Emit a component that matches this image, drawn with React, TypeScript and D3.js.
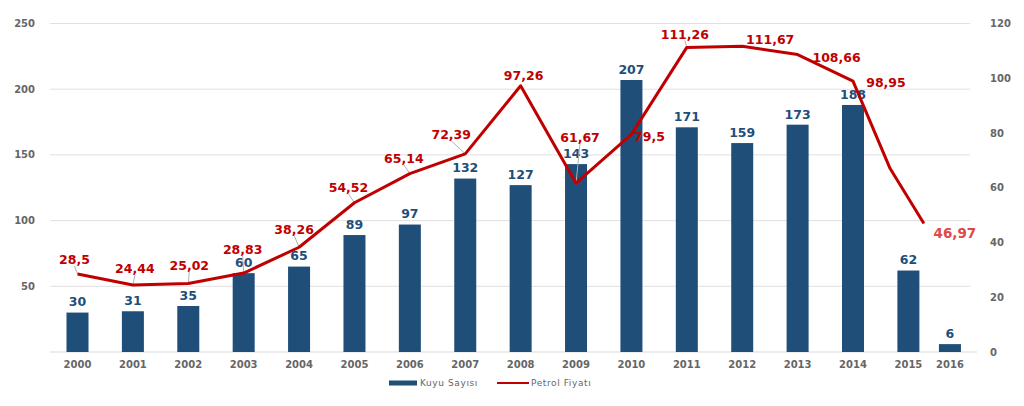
import React from "react";
import * as d3 from "d3";

const years = ["2000","2001","2002","2003","2004","2005","2006","2007","2008","2009","2010","2011","2012","2013","2014","2015","2016"];
const wells = [30,31,35,60,65,89,97,132,127,143,207,171,159,173,188,62,6];
const barSlot = [0,1,2,3,4,5,6,7,8,9,10,11,12,13,14,15,15.75];
const oilPrice = [28.5,24.44,25.02,28.83,38.26,54.52,65.14,72.39,97.26,61.67,79.5,111.26,111.67,108.66,98.95,67,46.97];
const oilLabels = ["28,5","24,44","25,02","28,83","38,26","54,52","65,14","72,39","97,26","61,67","79,5","111,26","111,67","108,66","98,95","","46,97"];
const lineSlot = [0,1,2,3,4,5,6,7,8,9,10,11,12,13,14,14.67,15.28];
const leftTicks = [50,100,150,200,250];
const rightTicks = [0,20,40,60,80,100,120];

// label layout offsets (px) relative to the point
const labelOffsets: [number, number, boolean][] = [
  [-3,-14,true],[2,-16,true],[1,-18,true],[-1,-23,true],[-5,-18,true],[-6,-15,true],[-6,-15,true],[-14,-19,true],
  [3,-10,false],[4,-46,true],[18,2,false],[-2,-13,true],[28,-7,false],[39,3,false],[33,2,false],[0,0,false],[31,10,false]
];

export default function App() {
  const W = 1024, H = 406;
  const x = d3.scaleLinear().domain([0, 14]).range([77.5, 853]);
  const yL = d3.scaleLinear().domain([0, 250]).range([352, 23.5]);
  const yR = d3.scaleLinear().domain([0, 120]).range([352, 23.5]);
  const barW = 22;
  const line = d3.line<number>().x((_, i) => x(lineSlot[i])).y(d => yR(d));
  const font = "'DejaVu Sans', Verdana, sans-serif";
  const blue = "#1F4E79";
  const red = "#C00000";
  const gray = "#666666";

  return (
    <svg width={W} height={H} style={{ position: "absolute", left: 0, top: 0, background: "#fff" }} fontFamily={font}>
      {leftTicks.map(t => (
        <line key={"g" + t} x1={50} x2={970} y1={yL(t)} y2={yL(t)} stroke="#e0e0e0" strokeWidth={1} />
      ))}
      <line x1={50} x2={977} y1={yL(0)} y2={yL(0)} stroke="#d9d9d9" strokeWidth={1} />
      {leftTicks.map(t => (
        <text key={"l" + t} x={35} y={yL(t)} dy="0.35em" textAnchor="end" fontSize={10} fontWeight="bold" fill={gray}>{t}</text>
      ))}
      {rightTicks.map(t => (
        <text key={"r" + t} x={990} y={yR(t)} dy="0.35em" textAnchor="start" fontSize={10} fontWeight="bold" fill={gray}>{t}</text>
      ))}
      {wells.map((v, i) => (
        <rect key={"b" + i} x={x(barSlot[i]) - barW / 2} y={yL(v)} width={barW} height={yL(0) - yL(v)} fill={blue} />
      ))}
      {years.map((yr, i) => (
        <text key={"x" + yr} x={x(barSlot[i])} y={364} dy="0.35em" textAnchor="middle" fontSize={10} fontWeight="bold" fill={gray}>{yr}</text>
      ))}
      {wells.map((v, i) => (
        <text key={"bl" + i} x={x(barSlot[i])} y={yL(v) - 10.5} dy="0.35em" textAnchor="middle" fontSize={12.5} fontWeight="bold" fill={blue}>{v}</text>
      ))}
      {oilPrice.map((v, i) => {
        const [dx, dy, lead] = labelOffsets[i];
        if (!lead) return null;
        const px = x(lineSlot[i]), py = yR(v);
        return <line key={"ld" + i} x1={px + dx} y1={py + dy + 6} x2={px} y2={py} stroke="#b0b0b0" strokeWidth={1} />;
      })}
      <path d={line(oilPrice) || ""} fill="none" stroke={red} strokeWidth={3} strokeLinejoin="round" />
      {oilPrice.map((v, i) => {
        const [dx, dy] = labelOffsets[i];
        const last = i === oilPrice.length - 1;
        return (
          <text key={"ol" + i} x={x(lineSlot[i]) + dx} y={yR(v) + dy} dy="0.35em" textAnchor="middle"
            fontSize={last ? 13.5 : 12.5} fontWeight="bold" fill={last ? "#E04848" : red}>{oilLabels[i]}</text>
        );
      })}
      <rect x={389} y={380.5} width={28} height={5} fill={blue} />
      <text x={420} y={383} dy="0.35em" fontSize={9} fill={gray} letterSpacing={0.6}>Kuyu Sayısı</text>
      <line x1={497} x2={529} y1={383} y2={383} stroke={red} strokeWidth={2} />
      <text x={531} y={383} dy="0.35em" fontSize={9} fill={gray} letterSpacing={0.6}>Petrol Fiyatı</text>
    </svg>
  );
}
